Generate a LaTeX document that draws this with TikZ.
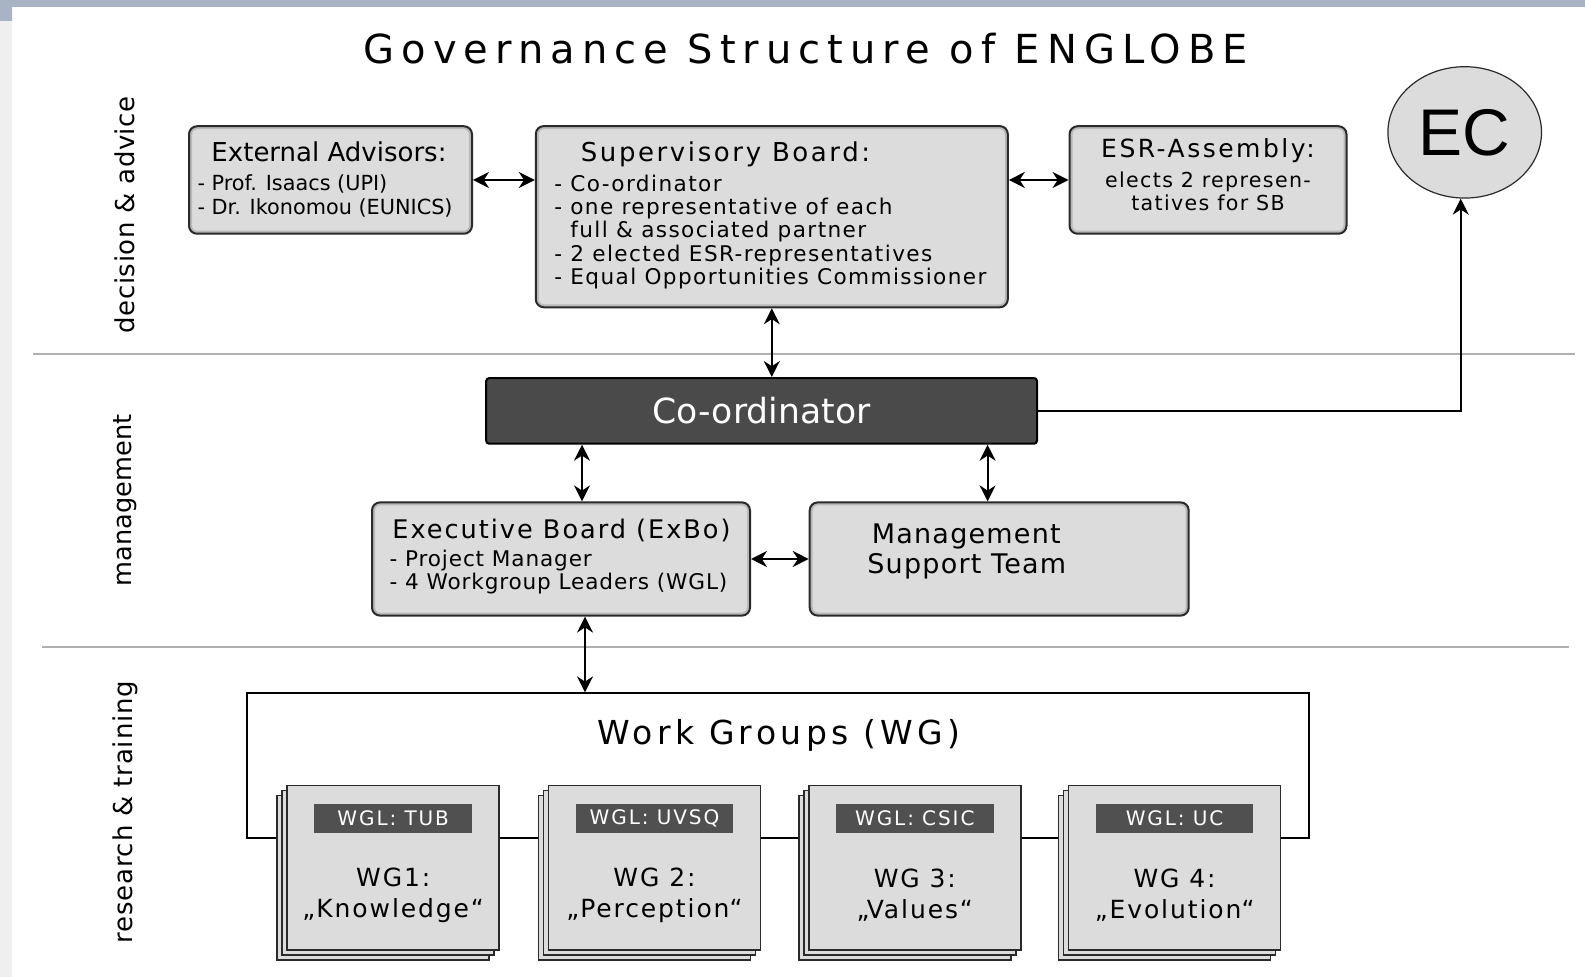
\documentclass[tikz,border=0pt]{standalone}
\usepackage{fontspec}
\setmainfont{DejaVu Sans}
\newfontfamily\condfont{DejaVu Sans Condensed}
\newfontfamily\arialfont{Liberation Sans}
\usetikzlibrary{positioning,arrows.meta,shapes.geometric}

\definecolor{boxfill}{HTML}{DCDCDC}
\definecolor{boxline}{HTML}{2A2A2A}
\definecolor{coordfill}{HTML}{4A4A4A}
\definecolor{wglfill}{HTML}{505050}
\definecolor{rulegray}{HTML}{B0B0B0}
\definecolor{topband}{HTML}{A8B4C4}
\definecolor{sidestrip}{HTML}{EFEFEF}

% size and tracking in one go
\newcommand{\setfs}[3]{\fontsize{#1}{#2}\selectfont\addfontfeature{LetterSpace=#3}}

\tikzset{
	box/.style={draw=boxline, fill=boxfill, line width=1pt, rounded corners=4pt, inner sep=0pt,
		path picture={\draw[black!28, line width=3pt, rounded corners=4pt]
			(path picture bounding box.south west) rectangle (path picture bounding box.north east);}},
	coordbox/.style={draw=black, fill=coordfill, line width=1pt, rounded corners=1.5pt, inner sep=0pt, text=white},
	wgbox/.style={draw=boxline, fill=boxfill, line width=0.8pt, inner sep=0pt, minimum width=106pt, minimum height=82.4pt},
	wglabel/.style={fill=wglfill, text=white, inner sep=0pt, minimum width=78.8pt, minimum height=14.7pt},
	sidelabel/.style={rotate=90, inner sep=0pt},
	layerline/.style={draw=rulegray, line width=0.6pt},
	link/.style={<->, line width=1pt},
	txt/.style={inner sep=0pt},
}

\begin{document}
\begin{tikzpicture}[x=0.5pt, y=-0.5pt, >={Stealth[length=8pt, width=8pt]}]

\useasboundingbox (0,0) rectangle (1585,977);
\fill[sidestrip] (0,0) rectangle (12,977);
\fill[topband] (0,0) rectangle (1585,7) (0,0) rectangle (12,21);

\node[txt, font=\setfs{20}{22}{17.5}] (title) at (806,48.5) {Governance Structure of ENGLOBE};

% layers
\draw[layerline] (33,354) -- (1575,354);
\draw[layerline] (42,647) -- (1569,647);
\node[sidelabel, font=\setfs{13}{15}{2}] (lay-decision) at (125.3,214.8) {decision \& advice};
\node[sidelabel, font=\setfs{12.8}{15}{0}] (lay-management) at (125.3,500.4) {management};
\node[sidelabel, font=\setfs{13}{15}{3}] (lay-research) at (125.3,812.2) {research \& training};

% decision & advice
\node[box, minimum width=141.5pt, minimum height=53.75pt] (ext) at (330.5,180) {};
\node[txt, font=\setfs{13}{15}{0}] (ext-head) at (329,151.5) {External Advisors:};
\node[txt, font=\setfs{10.4}{11.6}{0}, align=left, anchor=west] (ext-list) at (197.1,196)
	{- Prof. Isaacs (UPI)\\- Dr. Ikonomou (EUNICS)};

\node[box, minimum width=236pt, minimum height=90.6pt] (sup) at (771.8,216.7) {};
\node[txt, font=\setfs{13}{15}{10}] (sup-head) at (725.5,154.5) {Supervisory Board:};
\node[txt, font=\setfs{10.8}{11.63}{6.5}, align=left, anchor=west] (sup-list) at (553.9,232)
	{- Co-ordinator\\- one representative of each\\\hphantom{- }full \& associated partner\\- 2 elected ESR-representatives\\- Equal Opportunities Commissioner};

\node[box, minimum width=138.5pt, minimum height=53.75pt] (esr) at (1208,180) {};
\node[txt, font=\setfs{12.5}{14}{10}] (esr-head) at (1208,150.5) {ESR-Assembly:};
\node[txt, font=\setfs{10.3}{11.65}{6.5}, align=center] (esr-text) at (1208,191.5)
	{elects 2 represen-\\tatives for SB};

\node[ellipse, draw=boxline, fill=boxfill, line width=0.6pt, minimum width=76.8pt, minimum height=65.7pt,
	inner sep=0pt, font=\arialfont\fontsize{33}{35}\selectfont] (ec) at (1464.7,132.4) {EC};

% management
\node[coordbox, minimum width=275.4pt, minimum height=32.85pt, font=\setfs{17.3}{19}{0}] (coord) at (761.6,410.9) {Co-ordinator};

\node[box, minimum width=189pt, minimum height=56.6pt] (exbo) at (561,559) {};
\node[txt, font=\setfs{12.8}{14}{7.7}] (exbo-head) at (561.5,530) {Executive Board (ExBo)};
\node[txt, font=\setfs{10.8}{11.6}{4}, align=left, anchor=west] (exbo-list) at (389.2,572)
	{- Project Manager\\- 4 Workgroup Leaders (WGL)};

\node[box, minimum width=189.5pt, minimum height=56.6pt] (mst) at (999.2,559) {};
\node[txt, font=\setfs{13.5}{15.2}{4.5}, align=left, anchor=west] (mst-text) at (867,551.5)
	{\hphantom{}\,Management\\Support Team};

% research & training
\node[draw, line width=1pt, inner sep=0pt, minimum width=531.2pt, minimum height=72.3pt] (wgframe) at (777.8,765.7) {};
\node[txt, font=\setfs{16.5}{18}{13.3}] (wgframe-head) at (779,735.5) {Work Groups (WG)};

\foreach \x/\lead/\wgname/\topic [count=\i] in {393.2/TUB/WG1:/Knowledge, 654.5/UVSQ/WG 2:/Perception,
		914.8/CSIC/WG 3:/Values, 1174.6/UC/WG 4:/Evolution} {
	\foreach \d in {10,5}
		\node[wgbox] (wg\i-back\d) at (\x-\d,867.8+\d) {};
	\node[wgbox] (wg\i) at (\x,867.8) {};
	\node[wglabel, font=\setfs{10}{12}{9.5}] (wgl\i) at ([yshift=-17pt]wg\i.north) {WGL: \lead};
	\node[txt, align=center, font=\setfs{12.5}{15.5}{7.6}] (wg\i-text) at ([yshift=-13.8pt]wg\i.center) {\wgname\\„\topic“};
}

% connectors
\draw[link] (ext.east) -- (ext.east -| sup.west);
\draw[link] (esr.west) -- (esr.west -| sup.east);
\draw[link] (sup.south) -- (sup.south |- coord.north);
\draw[->, line width=1pt] (coord.east) -| ([xshift=-2pt]ec.south);
\draw[link] ([xshift=10.5pt]exbo.north) -- ([xshift=10.5pt]exbo.north |- coord.south);
\draw[link] ([xshift=-5.8pt]mst.north) -- ([xshift=-5.8pt]mst.north |- coord.south);
\draw[link] (exbo.east) -- (mst.west);
\draw[link] ([xshift=12pt]exbo.south) -- ([xshift=12pt]exbo.south |- wgframe.north);

\end{tikzpicture}
\end{document}
